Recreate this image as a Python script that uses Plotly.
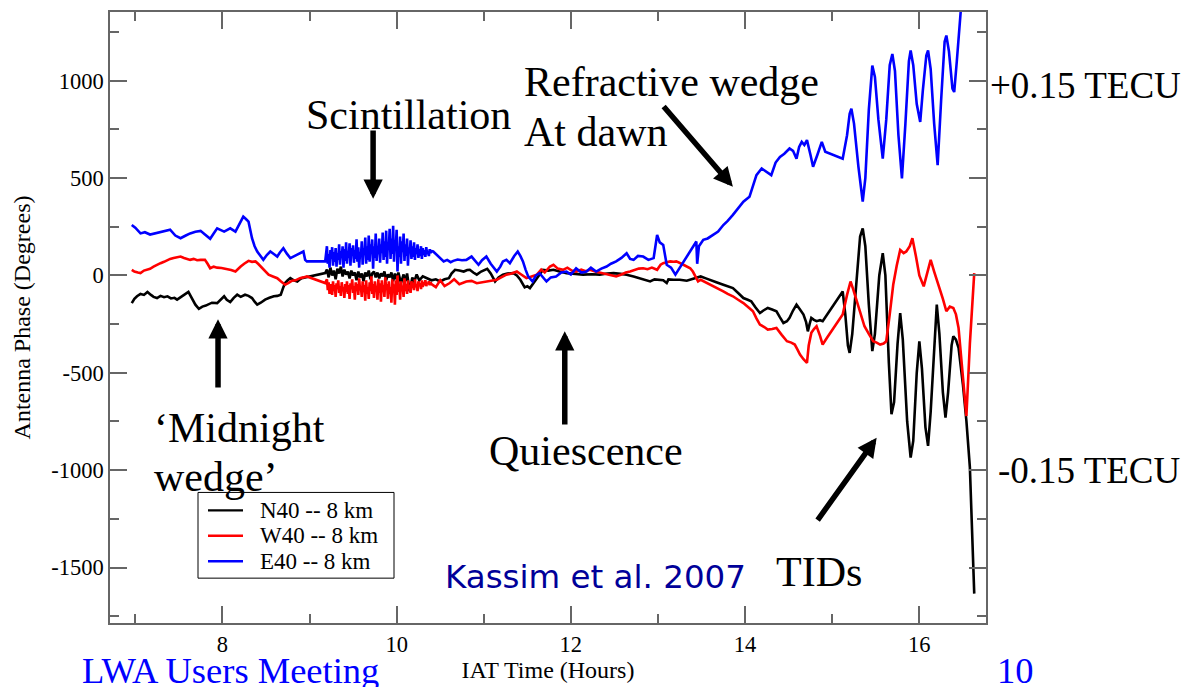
import plotly.graph_objects as go

# ---------------- data (hours, degrees) ----------------
# sampling grid used for the densely sampled scintillation interval (values below are hand-read)
scint_time = [round(9.20 + 0.01 * i, 2) for i in range(121)]

n40_time = [6.96, 6.99, 7.02, 7.06, 7.10, 7.14, 7.18, 7.21, 7.25, 7.29, 7.33, 7.37, 7.41, 7.45, 7.48,
            7.52, 7.56, 7.61, 7.65, 7.69, 7.73, 7.77, 7.81, 7.84, 7.88, 7.94, 7.98, 8.02, 8.05, 8.09,
            8.13, 8.17, 8.21, 8.26, 8.30, 8.34, 8.37, 8.40, 8.44, 8.49, 8.54, 8.59, 8.63, 8.67, 8.70,
            8.72, 8.75, 8.78, 8.82, 8.86, 8.89, 8.91, 9.18,
            9.20, 9.22, 9.24, 9.26, 9.28, 9.30, 9.32, 9.34, 9.36, 9.38, 9.40, 9.42, 9.44, 9.46, 9.48,
            9.50, 9.52, 9.54, 9.56, 9.58, 9.60, 9.62, 9.64, 9.66, 9.68, 9.70, 9.72, 9.74, 9.76, 9.78,
            9.80, 9.82, 9.84, 9.86, 9.88, 9.90, 9.92, 9.94, 9.96, 9.98, 10.00, 10.02, 10.05, 10.08,
            10.10, 10.12, 10.15, 10.18, 10.20, 10.23, 10.26, 10.30, 10.35, 10.40, 10.45, 10.50, 10.55,
            10.60, 10.63, 10.67, 10.72, 10.77, 10.81, 10.84, 10.88, 10.92, 10.97, 11.01, 11.04, 11.08,
            11.13, 11.17, 11.22, 11.27, 11.34, 11.38, 11.42, 11.47, 11.50, 11.53, 11.57, 11.61, 11.65,
            11.68, 11.74, 11.80, 11.87, 11.95, 12.05, 12.14, 12.24, 12.33, 12.42, 12.49, 12.57, 12.64,
            12.72, 12.79, 12.85, 12.91, 12.96, 13.02, 13.06, 13.10, 13.12, 13.18, 13.25, 13.33, 13.37,
            13.42, 13.49, 13.55, 13.60, 13.67, 13.75, 13.80, 13.86, 13.92, 13.98, 14.03, 14.07, 14.12,
            14.17, 14.21, 14.26, 14.31, 14.36, 14.40, 14.44, 14.48, 14.51, 14.55, 14.59, 14.63, 14.67,
            14.70, 14.72, 14.74, 14.76, 14.79, 14.82, 14.86, 14.89, 15.12,
            15.15, 15.18, 15.20, 15.23, 15.28, 15.32, 15.35, 15.38, 15.42, 15.46, 15.49, 15.54, 15.58,
            15.61, 15.65, 15.68, 15.71, 15.75, 15.78, 15.81, 15.86, 15.90, 15.93, 15.97, 16.00, 16.03,
            16.07, 16.10, 16.13, 16.17, 16.20, 16.23, 16.27, 16.30, 16.33, 16.37, 16.39, 16.42, 16.45,
            16.50, 16.54, 16.58, 16.63]
n40_phase = [-142, -120, -107, -95, -100, -85, -100, -110, -116, -105, -112, -107, -118, -115, -124,
             -110, -100, -85, -115, -150, -171, -160, -155, -150, -140, -142, -125, -107, -125, -137,
             -115, -99, -110, -99, -105, -116, -135, -150, -140, -124, -115, -107, -105, -99, -60,
             -39, -25, -14, -25, -31, -20, -14, 12,
             30, -10, 40, 0, 25, -20, 35, 10, 45, -5, 30, 5, 20, -15, 25,
             0, 15, -25, 20, -10, 10, -30, 15, -5, 25, -20, 10, 20, -10, 15,
             -15, 10, -5, 20, -25, 5, -10, 15, -30, 10, -20, 15, -40, 5,
             -30, 10, -82, -10, -35, 5, -25, -5, -14, -25, -20, -31, -20,
             -14, 10, 29, 25, 20, 28, 29, 15, 4, 20, 30, 34, 10,
             -31, -10, 4, 10, 12, 0, -22, -61, -55, -65, -40, -14, 15,
             29, 25, 29, 20, 12, 8, 4, 6, 4, 10, 12, 8, 4,
             -5, -14, -20, -31, -20, -22, -25, -39, -20, -22, -22, -27, -22,
             -14, -5, -15, -22, -35, -48, -55, -65, -90, -116, -125, -133, -165,
             -193, -180, -167, -175, -184, -215, -244, -235, -218, -180, -150, -175, -201,
             -240, -287, -250, -218, -228, -235, -230, -235, -82,
             -200, -360, -398, -300, 0, 200, 242, 150, -150, -389, -300, 0, 114,
             0, -450, -713, -650, -350, -193, -330, -750, -935, -850, -500, -338, -480,
             -780, -875, -700, -350, -150, -300, -600, -730, -600, -360, -312, -330, -372,
             -560, -747, -986, -1634]

w40_time_a = [6.96, 6.99, 7.03, 7.06, 7.10, 7.14, 7.17, 7.21, 7.25, 7.29, 7.33, 7.37, 7.40, 7.44, 7.48,
              7.52, 7.56, 7.60, 7.63, 7.67, 7.71, 7.75, 7.80, 7.83, 7.86, 7.90, 7.94, 7.99, 8.05, 8.10,
              8.15, 8.18, 8.21, 8.25, 8.30, 8.34, 8.38, 8.41, 8.44, 8.48, 8.53, 8.58, 8.63, 8.67, 8.72,
              8.76, 8.80, 8.84, 8.89, 8.93, 8.97, 9.18]
w40_phase_a = [29, 20, 15, 12, 25, 30, 34, 45, 55, 63, 70, 80, 85, 90, 95,
               97, 90, 85, 80, 85, 78, 80, 80, 60, 37, 45, 40, 38, 34, 28,
               20, 35, 46, 60, 75, 70, 72, 60, 46, 25, 4, -5, -14, -30, -48,
               -38, -27, -25, -14, -10, -5, -39]
w40_phase_scint = [-20, -75, -35, -95, -45, -60, -100, -30, -80, -50,
                   -110, -40, -70, -25, -90, -55, -105, -35, -75, -60,
                   -115, -45, -85, -30, -95, -50, -120, -40, -70, -20,
                   -90, -55, -125, -35, -80, -45, -100, -15, -75, -60,
                   -110, -30, -85, -50, -130, -25, -95, -60, -120, -35,
                   -80, -5, -95, -45, -115, -30, -70, -55, -125, -20,
                   -90, -40, -135, -25, -85, -50, -110, -10, -75, -45,
                   -120, -30, -95, -60, -140, -20, -80, -45, -150, -25,
                   -100, 0, -85, -40, -125, -30, -70, -55, -110, -15,
                   -80, -45, -95, -25, -70, -50, -90, -30, -65, -40,
                   -75, -20, -60, -45, -80, -30, -55, -40, -70, -25,
                   -60, -35, -50, -25, -55, -40, -45, -30, -50, -35,
                   -45]
w40_time_b = [10.45, 10.50, 10.55, 10.61, 10.66, 10.72, 10.80, 10.86, 10.92, 10.99, 11.05, 11.10, 11.15,
              11.20, 11.26, 11.32, 11.38, 11.43, 11.49, 11.55, 11.61, 11.66, 11.70, 11.76, 11.80, 11.85,
              11.91, 11.96, 12.01, 12.06, 12.12, 12.17, 12.22, 12.28, 12.33, 12.37, 12.43, 12.48, 12.52,
              12.58, 12.63, 12.68, 12.73, 12.78, 12.83, 12.88, 12.93, 12.99, 13.03, 13.06, 13.10, 13.14,
              13.18, 13.21, 13.27, 13.33, 13.37, 13.40, 13.43, 13.46, 13.49, 13.55, 13.60, 13.67, 13.75,
              13.80, 13.86, 13.92, 13.98, 14.04, 14.09, 14.13, 14.17, 14.22, 14.26, 14.31, 14.36, 14.42,
              14.48, 14.53, 14.57, 14.60, 14.63, 14.67, 14.71, 14.73, 14.76, 14.79, 14.82, 14.86, 14.89,
              14.94, 14.99, 15.05, 15.12, 15.17, 15.21, 15.24, 15.28, 15.33, 15.37, 15.42, 15.47, 15.51,
              15.55, 15.59, 15.62, 15.66, 15.70, 15.74, 15.78, 15.82, 15.85, 15.89, 15.92, 15.96, 16.00,
              16.05, 16.09, 16.13, 16.17, 16.22, 16.27, 16.31, 16.35, 16.39, 16.42, 16.45, 16.50, 16.54,
              16.58, 16.63]
w40_phase_b = [-60, -25, -55, -39, -20, -45, -31, -28, -40, -35, -30, -28, -22,
               -10, 4, 10, 20, 5, -14, -5, 4, 30, 15, 46, 55, 35,
               29, 40, 25, 20, 30, 22, 29, 20, 15, 12, 5, 0, -5,
               5, 15, 20, 28, 35, 37, 32, 40, 29, 55, 63, 68, 72,
               70, 72, 60, 46, 37, 20, -5, -31, -22, -35, -48, -65, -82,
               -95, -107, -125, -142, -165, -184, -220, -252, -265, -278, -275, -270, -305,
               -338, -345, -355, -380, -406, -430, -449, -360, -295, -275, -261, -310, -355,
               -320, -287, -245, -201, -100, -31, -70, -133, -200, -261, -300, -338, -345,
               -355, -350, -338, -200, -48, 50, 131, 115, 123, 150, 191, 100, 0,
               -56, 10, 80, 20, -48, -120, -184, -160, -167, -200, -270, -500, -722,
               -350, 12]
w40_time = w40_time_a + scint_time + w40_time_b
w40_phase = w40_phase_a + w40_phase_scint + w40_phase_b

e40_time_a = [6.96, 7.00, 7.06, 7.11, 7.17, 7.24, 7.32, 7.36, 7.40, 7.46, 7.52, 7.58, 7.63, 7.69, 7.75,
              7.80, 7.86, 7.90, 7.94, 8.02, 8.06, 8.09, 8.15, 8.20, 8.24, 8.27, 8.30, 8.34, 8.37, 8.40,
              8.44, 8.47, 8.51, 8.55, 8.59, 8.63, 8.66, 8.70, 8.74, 8.78, 8.82, 8.86, 8.90, 8.93, 8.95,
              8.97, 9.18]
e40_phase_a = [259, 245, 216, 222, 210, 218, 225, 232, 235, 205, 191, 205, 216, 224, 229,
               210, 188, 215, 242, 225, 235, 242, 225, 265, 302, 290, 276, 191, 150, 123,
               95, 80, 105, 123, 110, 97, 118, 140, 112, 89, 98, 106, 118, 123, 80,
               72, 72]
e40_phase_scint = [150, 60, 110, 40, 130, 85, 145, 50, 120, 70,
                   140, 45, 115, 80, 160, 55, 125, 95, 150, 40,
                   135, 75, 170, 60, 120, 90, 165, 50, 140, 100,
                   155, 65, 130, 85, 185, 70, 145, 40, 120, 95,
                   175, 55, 140, 105, 195, 60, 150, 80, 205, 70,
                   160, 120, 185, 35, 150, 90, 215, 75, 140, 110,
                   190, 65, 160, 115, 220, 80, 175, 95, 230, 60,
                   170, 130, 240, 85, 190, 110, 255, 70, 180, 140,
                   235, 20, 150, 95, 200, 60, 175, 120, 215, 75,
                   160, 100, 190, 50, 145, 115, 180, 85, 150, 95,
                   170, 80, 140, 110, 160, 90, 135, 100, 150, 85,
                   140, 105, 130, 95, 145, 110, 125, 100, 135, 115,
                   125]
e40_time_b = [10.42, 10.46, 10.50, 10.54, 10.58, 10.62, 10.65, 10.70, 10.75, 10.80, 10.86, 10.90, 10.94,
              10.98, 11.03, 11.08, 11.15, 11.19, 11.22, 11.26, 11.30, 11.35, 11.39, 11.42, 11.45, 11.48,
              11.51, 11.56, 11.60, 11.64, 11.68, 11.72, 11.77, 11.83, 11.89, 11.95, 12.00, 12.06, 12.12,
              12.18, 12.23, 12.29, 12.35, 12.41, 12.46, 12.52, 12.58, 12.64, 12.68, 12.72, 12.77, 12.83,
              12.89, 12.95, 12.99, 13.02, 13.06, 13.10, 13.15, 13.20, 13.44, 13.45, 13.47, 13.52, 13.57,
              13.63, 13.69, 13.75, 13.80, 13.86, 13.92, 13.98, 14.05, 14.10, 14.13, 14.19, 14.25, 14.30,
              14.35, 14.40, 14.45, 14.51, 14.55, 14.59, 14.62, 14.65, 14.68, 14.71, 14.75, 14.78, 14.83,
              14.88, 14.92, 15.12,
              15.17, 15.20, 15.22, 15.25, 15.30, 15.35, 15.38, 15.42, 15.46, 15.49, 15.53, 15.58, 15.62,
              15.66, 15.69, 15.72, 15.76, 15.80, 15.84, 15.88, 15.90, 15.93, 15.97, 16.01, 16.04, 16.08,
              16.10, 16.13, 16.17, 16.21, 16.25, 16.29, 16.31, 16.34, 16.38, 16.40, 16.43, 16.47, 16.50]
e40_phase_b = [123, 105, 85, 72, 80, 68, 75, 82, 78, 80, 97, 75, 55,
               78, 97, 60, 20, 45, 72, 80, 63, 100, 123, 100, 72, 30,
               -5, -31, 0, 12, -10, -31, -10, -5, 15, 20, 5, 37, 15,
               20, 40, 20, 35, 46, 60, 72, 90, 114, 85, 80, 100, 97,
               80, 89, 208, 170, 157, 55, 40, 4, 174, 60, 150, 183, 190,
               208, 225, 259, 280, 311, 345, 379, 404, 470, 515, 549, 530, 515,
               580, 609, 625, 652, 640, 600, 660, 686, 670, 695, 620, 558, 620,
               686, 635, 600,
               720, 830, 856, 780, 560, 379, 500, 850, 1078, 1020, 800, 600, 800,
               1080, 1137, 1050, 720, 498, 780, 1100, 1155, 1080, 880, 788, 950, 1130,
               1155, 1060, 780, 566, 900, 1200, 1232, 1150, 960, 942, 1100, 1351, 1500]
e40_time = e40_time_a + scint_time + e40_time_b
e40_phase = e40_phase_a + e40_phase_scint + e40_phase_b

series_names = ["N40 -- 8 km", "W40 -- 8 km", "E40 -- 8 km"]
series_colors = ["#000000", "#ff0000", "#0000ff"]

x_range = [6.71, 16.765]
y_range = [-1785, 1353]
y_tick_vals = [-1500, -1000, -500, 0, 500, 1000]
y_tick_text = ["-1500", "-1000", "-500", "0", "500", "1000"]
x_tick_vals = [8, 10, 12, 14, 16]
x_tick_text = ["8", "10", "12", "14", "16"]

# annotation arrows: (tip_time, tip_phase, tail_time, tail_phase)
arrows = [
    (9.73, 394, 9.73, 752),        # Scintillation
    (7.95, -225, 7.95, -583),      # Midnight wedge
    (11.93, -287, 11.93, -773),    # Quiescence
    (13.86, 455, 13.05, 875),      # Refractive wedge
    (15.51, -834, 14.82, -1264),   # TIDs
]

# ---------------- figure ----------------
W, H = 1184, 687
L, R, T, B = 110, 986, 10, 623
SERIF = "Liberation Serif, Times New Roman, serif"
AXIS_GRAY = "#666666"


def fx(p):
    return (p - L) / (R - L)


def fy(p):
    return (B - p) / (B - T)


fig = go.Figure()
for t, ph, nm, col in zip([n40_time, w40_time, e40_time],
                          [n40_phase, w40_phase, e40_phase],
                          series_names, series_colors):
    fig.add_trace(go.Scatter(x=t, y=ph, mode="lines", name=nm, showlegend=False,
                             line=dict(color=col, width=2.6)))

annotations = []
shapes = []


def txt(s, x, y, size, color="black", family=SERIF):
    annotations.append(dict(text=s, x=fx(x), y=fy(y), xref="paper", yref="paper",
                            xanchor="left", yanchor="middle", showarrow=False,
                            font=dict(size=size, color=color, family=family)))


txt("Scintillation", 304, 113, 42)
txt("Refractive wedge", 522, 80, 42)
txt("At dawn", 522, 130, 42)
txt("\u2018Midnight", 152, 427, 42)
txt("wedge\u2019", 152, 477, 42)
txt("Quiescence", 487, 450, 42)
txt("TIDs", 774, 572, 42)
txt("+0.15 TECU", 988, 84, 37)
txt("-0.15 TECU", 996, 470, 37)
txt("Kassim et al. 2007", 443, 577, 32.5, "#000099", "DejaVu Sans, Verdana, sans-serif")
txt("LWA Users Meeting", 80, 671, 36.5, "#0000ff")
txt("10", 995, 671, 36.5, "#0000ff")

for (x1, y1, x0, y0) in arrows:
    annotations.append(dict(text="", x=x1, y=y1, ax=x0, ay=y0, xref="x", yref="y",
                            axref="x", ayref="y", showarrow=True, arrowhead=2,
                            arrowsize=0.7, arrowwidth=5.5, arrowcolor="black",
                            standoff=0, startstandoff=0))

# legend box (drawn in paper space)
shapes.append(dict(type="rect", xref="paper", yref="paper", x0=fx(198), x1=fx(394),
                   y0=fy(578), y1=fy(492), line=dict(color="black", width=1),
                   fillcolor="white", layer="above"))
for i, (nm, col) in enumerate(zip(series_names, series_colors)):
    row_y = 510 + 25.5 * i
    shapes.append(dict(type="line", xref="paper", yref="paper", x0=fx(208), x1=fx(243),
                       y0=fy(row_y), y1=fy(row_y), line=dict(color=col, width=2.4),
                       layer="above"))
    txt(nm, 258, row_y, 23)

axis_common = dict(showline=True, linecolor=AXIS_GRAY, linewidth=1.5, mirror="ticks",
                   ticks="inside", ticklen=17, tickwidth=1.5, tickcolor=AXIS_GRAY,
                   showgrid=False, zeroline=False,
                   tickfont=dict(family=SERIF, size=22.5, color="black"))

fig.update_layout(
    width=W, height=H,
    margin=dict(l=L, r=W - R, t=T, b=H - B),
    paper_bgcolor="white", plot_bgcolor="white",
    showlegend=False,
    xaxis=dict(range=x_range, tickmode="array", tickvals=x_tick_vals, ticktext=x_tick_text,
               minor=dict(dtick=1, tick0=0, ticklen=9, ticks="inside", tickcolor=AXIS_GRAY, tickwidth=1.5),
               title=dict(text="IAT Time (Hours)", font=dict(family=SERIF, size=24, color="black"),
                          standoff=2),
               **axis_common),
    yaxis=dict(range=y_range, tickmode="array", tickvals=y_tick_vals, ticktext=y_tick_text,
               minor=dict(dtick=250, tick0=0, ticklen=9, ticks="inside", tickcolor=AXIS_GRAY, tickwidth=1.5),
               title=dict(text="Antenna Phase (Degrees)", font=dict(family=SERIF, size=24, color="black"),
                          standoff=14),
               **axis_common),
    annotations=annotations,
    shapes=shapes,
)

fig.write_html("out.html")
